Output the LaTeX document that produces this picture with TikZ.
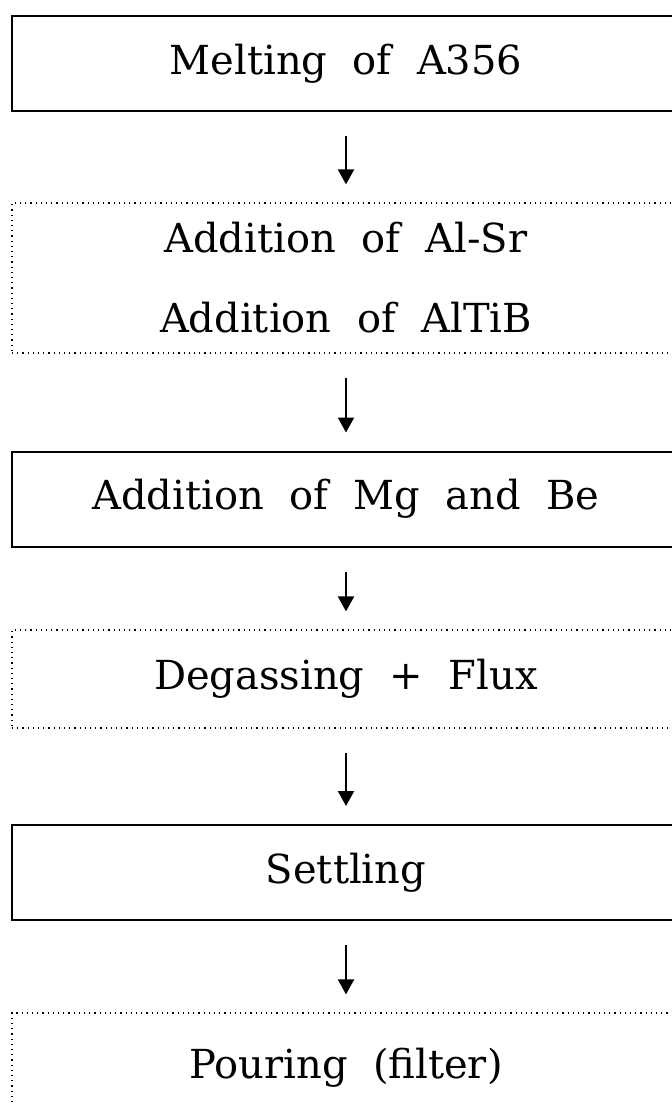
\documentclass[tikz,border=0pt]{standalone}
\usepackage{fontspec}
\setmainfont{DejaVu Serif}
\usetikzlibrary{arrows.meta}

\begin{document}
\begin{tikzpicture}[x=0.5pt,y=-0.5pt,
	stepbox/.style={rectangle,draw,line width=1pt,minimum width=334pt,minimum height=47.5pt,inner sep=0pt,font=\fontsize{20}{40}\selectfont,align=center},
	dotbox/.style={stepbox,line width=0.6pt,dotted},
	flow/.style={line width=1pt,-{Triangle[width=8pt,length=7.5pt]},shorten <=12pt,shorten >=9pt}]
	
	\clip (0,0) rectangle (672,1105);
	
	\node(melting) [stepbox] at (346,63.5) {Melting\ \ of\ \ A356};
	
	\node(additions) [dotbox,minimum height=75pt] at (346,278) {Addition\ \ of\ \ Al-Sr\\Addition\ \ of\ \ AlTiB};
	
	\node(mgbe) [stepbox] at (346,499) {Addition\ \ of\ \ Mg\ \ and\ \ Be};
	
	\node(degassing) [dotbox,minimum height=49pt] at (346,679) {Degassing\ \ +\ \ Flux};
	
	\node(settling) [stepbox] at (346,872.5) {Settling};
	
	\node(pouring) [dotbox,minimum height=55pt] at (346,1068) {Pouring\ \ (filter)};
	
	\draw[flow] (melting) -- (additions);
	
	\draw[flow] (additions) -- (mgbe);
	
	\draw[flow] (mgbe) -- (degassing);
	
	\draw[flow] (degassing) -- (settling);
	
	\draw[flow] (settling) -- (pouring);
	
\end{tikzpicture}
\end{document}
